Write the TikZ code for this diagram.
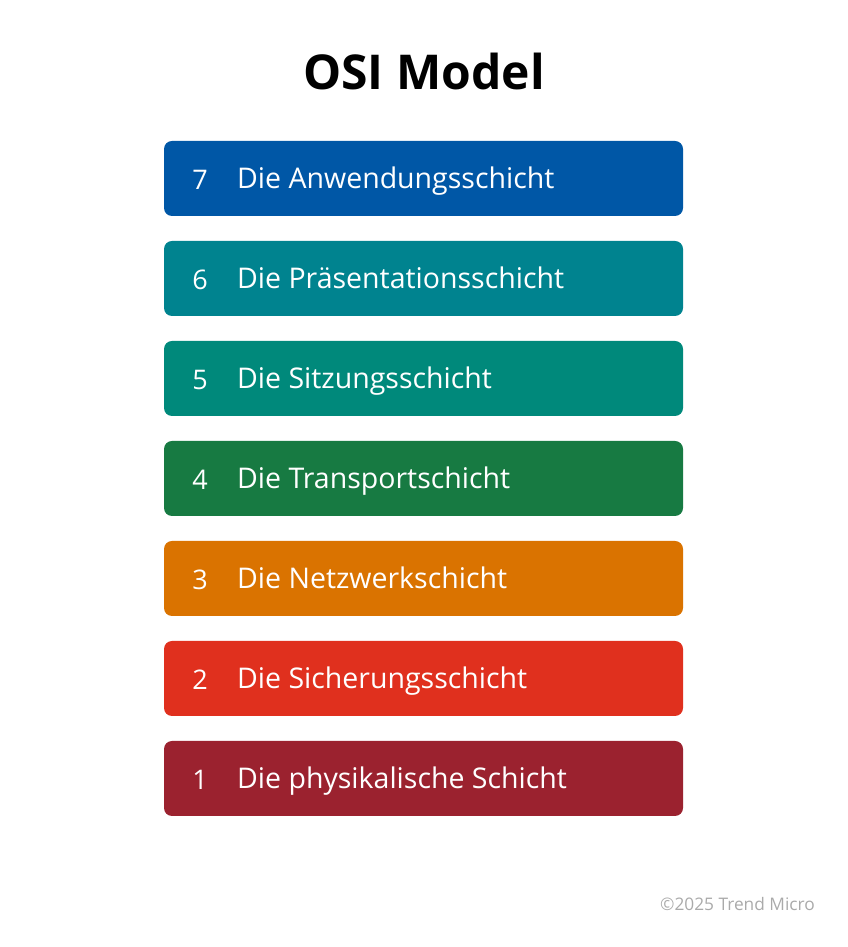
\documentclass[tikz,border=0pt]{standalone}
\usepackage{fontspec}
\setmainfont{Open Sans}
\usetikzlibrary{positioning}

\definecolor{layerseven}{RGB}{0,87,166}
\definecolor{layersix}{RGB}{0,131,143}
\definecolor{layerfive}{RGB}{0,137,123}
\definecolor{layerfour}{RGB}{23,122,66}
\definecolor{layerthree}{RGB}{218,115,0}
\definecolor{layertwo}{RGB}{224,48,30}
\definecolor{layerone}{RGB}{155,34,47}
\definecolor{footgray}{RGB}{170,170,170}

\begin{document}
\begin{tikzpicture}[x=1pt,y=1pt,node distance=25pt,
    layer/.style={rectangle,rounded corners=8pt,minimum width=519pt,minimum height=75pt,inner sep=0pt,outer sep=0pt},
    layernum/.style={text=white,anchor=base,font=\fontsize{27}{32}\selectfont},
    layername/.style={text=white,anchor=base west,inner sep=0pt,font=\fontsize{28.5}{34}\selectfont}]

\useasboundingbox (0,0) rectangle (847,947);

\node[anchor=base,font=\bfseries\fontsize{48}{56}\selectfont] (title) at (424,857) {OSI Model};

\node[layer,fill=layerseven]              (7) at (423.5,768.5) {};
\node[layer,fill=layersix,below=of 7]     (6) {};
\node[layer,fill=layerfive,below=of 6]    (5) {};
\node[layer,fill=layerfour,below=of 5]    (4) {};
\node[layer,fill=layerthree,below=of 4]   (3) {};
\node[layer,fill=layertwo,below=of 3]     (2) {};
\node[layer,fill=layerone,below=of 2]     (1) {};

% numbers and names of the layers
\foreach \l/\txt in {7/Die Anwendungsschicht, 6/Die Präsentationsschicht,
    5/Die Sitzungsschicht, 4/Die Transportschicht, 3/Die Netzwerkschicht,
    2/Die Sicherungsschicht, 1/Die physikalische Schicht}
{
  \node[layernum]  (n\l) at ([xshift=36pt,yshift=-11pt]\l.west) {\l};
  \node[layername] (t\l) at ([xshift=73pt,yshift=-10pt]\l.west) {\txt};
}

\node[anchor=base east,text=footgray,inner sep=0pt,font=\fontsize{17.3}{20}\selectfont] (foot) at (815,36) {©2025 Trend Micro};
\end{tikzpicture}
\end{document}
